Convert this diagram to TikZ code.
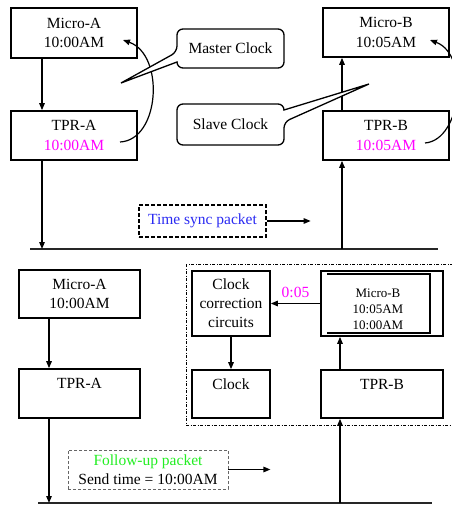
\documentclass[tikz,border=0pt]{standalone}
\usepackage{fontspec}
\setmainfont{Liberation Serif}
\usepackage{tikz}
\usetikzlibrary{arrows.meta, positioning}
\tikzset{>={Triangle[length=7pt,width=5.5pt]}}
\definecolor{timepink}{HTML}{FF00FF}
\definecolor{syncblue}{HTML}{2A2AF2}
\definecolor{followgreen}{HTML}{22EE22}
\tikzset{
  blk/.style={draw, line width=1.6pt, fill=white, align=center, inner sep=0pt,
    font=\fontsize{15.5}{19.5}\selectfont},
  link/.style={->, line width=1.3pt},
  bus/.style={line width=2.2pt, draw=black!85},
  bubble/.style={line width=1.3pt, rounded corners=6pt, fill=white},
  txt/.style={font=\fontsize{15.5}{19}\selectfont, align=center, inner sep=0pt},
}

\begin{document}
\begin{tikzpicture}[x=1pt, y=-1pt]
\useasboundingbox (0,0) rectangle (452,506);
\clip (0,0) rectangle (452,506);

% first step: sync packet
\node[blk, minimum width=126pt, minimum height=50pt] (microA) at (74,33) {Micro-A\\10:00AM};
\node[blk, minimum width=126pt, minimum height=49pt] (tprA) at (74,135.5) {TPR-A\\\textcolor{timepink}{10:00AM}};
\node[blk, minimum width=126pt, minimum height=49pt] (microB) at (386,32.5) {Micro-B\\10:05AM};
\node[blk, minimum width=126pt, minimum height=49pt] (tprB) at (386,135.5) {TPR-B\\\textcolor{timepink}{10:05AM}};

\coordinate (busAL) at (30,249);
\coordinate (busAR) at (438,249);
\draw[bus] (busAL) -- (busAR);

\draw[link] ([xshift=-32pt]microA.south) -- ([xshift=-32pt]tprA.north);
\coordinate (dropA) at ([xshift=-32pt]tprA.south);
\draw[link] (dropA) -- (dropA |- busAL);
\coordinate (riseB) at ([xshift=-44pt]tprB.south);
\draw[link] (riseB |- busAL) -- (riseB);
\draw[link] ([xshift=-44pt]tprB.north) -- ([xshift=-44pt]microB.south);

\coordinate (tA) at (120,142);
\coordinate (mA) at (123,40);
\draw[->, line width=1.2pt] (tA) .. controls (160,140) and (165,55) .. (mA);
\coordinate (tB) at (425,143);
\coordinate (mB) at (430,40);
\draw[->, line width=1.2pt] (tB) .. controls (462,140) and (470,55) .. (mB);

\draw[bubble] (177,62) -- (177,68) -- (284,68) -- (284,29) -- (177,29) -- (177,52)
  [sharp corners] -- (121,83) -- cycle;
\node[txt] (master) at (230.5,48.5) {Master Clock};
\draw[bubble] (284,110) -- (284,104) -- (177,104) -- (177,145) -- (284,145) -- (284,122)
  [sharp corners] -- (369,84) -- cycle;
\node[txt] (slave) at (230.5,124.5) {Slave Clock};

\node[txt, draw, line width=1.3pt, dash pattern=on 4pt off 2pt,
  minimum width=127pt, minimum height=32pt, text=syncblue] (sync) at (202.5,221) {Time sync packet};
\draw[link] (sync.east) -- ++(44,0);

% second step: follow-up packet
\node[blk, minimum width=121pt, minimum height=48pt] (microA2) at (79.5,294) {Micro-A\\10:00AM};
\node[blk, minimum width=121pt, minimum height=49pt] (tprA2) at (79.5,393.5) {TPR-A\\\mbox{}};

\draw[line width=1pt, dash pattern=on 3pt off 1.5pt on 1pt off 1.5pt] (186,264) rectangle (470,425);

\node[blk, minimum width=78pt, minimum height=65pt, font=\fontsize{15.5}{19}\selectfont] (circuits) at (231,303.5) {Clock\\correction\\circuits};
\node[blk, minimum width=78pt, minimum height=48pt] (clock) at (231,394) {Clock\\\mbox{}};
\node[blk, minimum width=122pt, minimum height=65pt] (microB2) at (382,303.5) {};
\draw[line width=1.3pt] (327,274) -- (430,274) -- (430,333) -- (327,333);
\node[txt, font=\fontsize{13}{16}\selectfont] (microBtxt) at (378,309) {Micro-B\\10:05AM\\10:00AM};
\node[blk, minimum width=122pt, minimum height=48pt] (tprB2) at (382,394) {TPR-B\\\mbox{}};

\coordinate (busBL) at (38,503);
\coordinate (busBR) at (432,503);
\draw[bus] (busBL) -- (busBR);

\draw[link] ([xshift=-30.5pt]microA2.south) -- ([xshift=-30.5pt]tprA2.north);
\coordinate (dropA2) at ([xshift=-30.5pt]tprA2.south);
\draw[link] (dropA2) -- (dropA2 |- busBL);
\coordinate (riseB2) at ([xshift=-42pt]tprB2.south);
\draw[link] (riseB2 |- busBL) -- (riseB2);
\draw[link] ([xshift=-42pt]tprB2.north) -- ([xshift=-42pt]microB2.south);
\draw[link] (microB2.west) -- node[above=5pt, txt, text=timepink] {0:05} (circuits.east);
\draw[link] (circuits.south) -- (clock.north);

\node[txt, draw=black!60, line width=0.8pt, dash pattern=on 3pt off 2pt,
  minimum width=160pt, minimum height=39pt] (follow) at (148,469.5)
  {\textcolor{followgreen}{Follow-up packet}\\Send time = 10:00AM};
\draw[link] (follow.east) -- ++(42,0);
\end{tikzpicture}
\end{document}
